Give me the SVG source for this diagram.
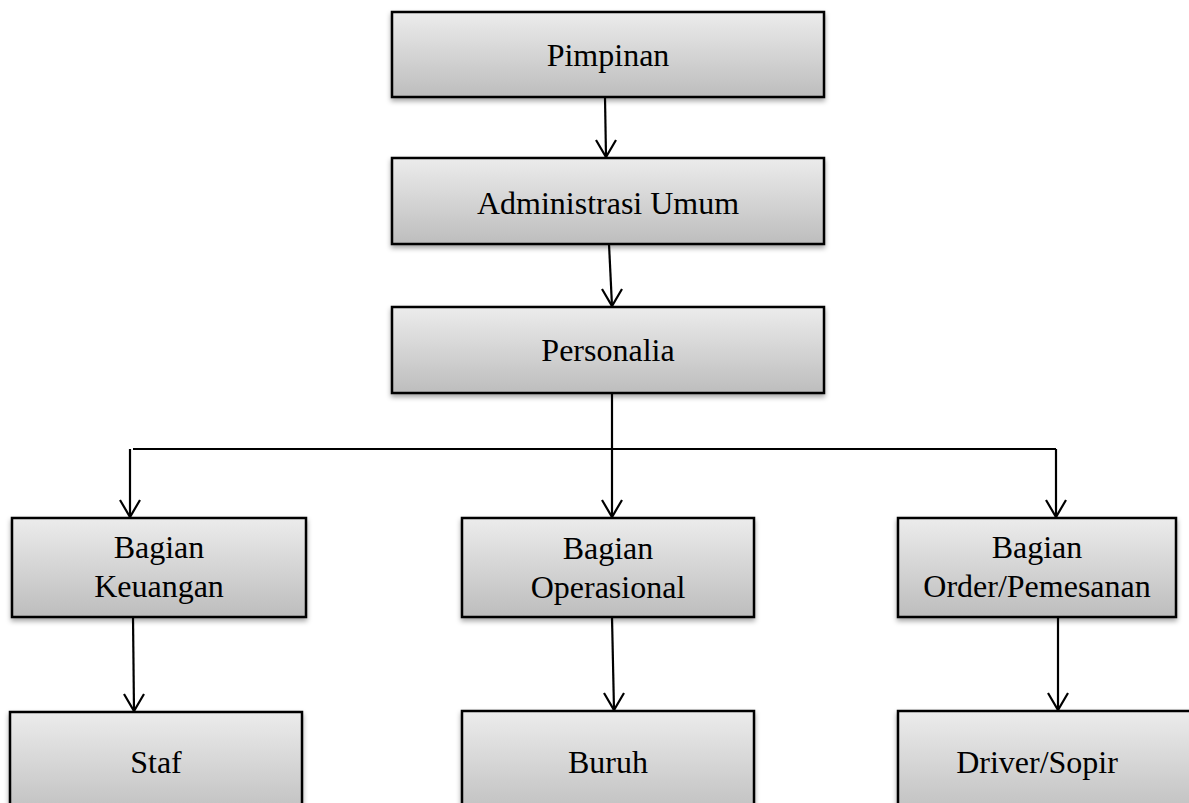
<svg xmlns="http://www.w3.org/2000/svg" width="1189" height="803" viewBox="0 0 1189 803">
<defs>
<linearGradient id="g" x1="0" y1="0" x2="0" y2="1">
<stop offset="0" stop-color="#ececec"/>
<stop offset="1" stop-color="#bdbdbd"/>
</linearGradient>
<filter id="sh" x="-5%" y="-10%" width="110%" height="130%">
<feDropShadow dx="0" dy="3" stdDeviation="2.5" flood-color="#000" flood-opacity="0.35"/>
</filter>
<style>
.box{fill:url(#g);stroke:#000;stroke-width:2.5;filter:url(#sh)}
.t{font-family:"Liberation Serif","Times New Roman",serif;font-size:32px;fill:#000;text-anchor:middle}
.c{fill:none;stroke:#000;stroke-width:2.2}
</style>
</defs>
<rect width="1189" height="803" fill="#fff"/>
<g id="connectors">
<path class="c" d="M605,97 L606,157"/>
<path class="c" d="M609,244 L612,306"/>
<path class="c" d="M612,393 L612,449"/>
<path class="c" d="M133,449 L1056,449"/>
<path class="c" d="M130,449 L130,517"/>
<path class="c" d="M612,449 L612,517"/>
<path class="c" d="M1056,449 L1056,517"/>
<path class="c" d="M133,617 L134,711"/>
<path class="c" d="M612,617 L614,710"/>
<path class="c" d="M1058,617 L1058,710"/>
<path class="c" d="M596,140 L606,157 L616,140"/>
<path class="c" d="M602,289 L612,306 L622,289"/>
<path class="c" d="M120,500 L130,517 L140,500"/>
<path class="c" d="M602,500 L612,517 L622,500"/>
<path class="c" d="M1046,500 L1056,517 L1066,500"/>
<path class="c" d="M124,694 L134,711 L144,694"/>
<path class="c" d="M604,693 L614,710 L624,693"/>
<path class="c" d="M1048,693 L1058,710 L1068,693"/>
</g>
<g id="pimpinan"><rect class="box" x="392" y="12" width="432" height="85"/><text class="t" x="608" y="66">Pimpinan</text></g>
<g id="administrasi"><rect class="box" x="392" y="158" width="432" height="86"/><text class="t" x="608" y="214">Administrasi Umum</text></g>
<g id="personalia"><rect class="box" x="392" y="307" width="432" height="86"/><text class="t" x="608" y="361">Personalia</text></g>
<g id="keuangan"><rect class="box" x="12" y="518" width="294" height="99"/><text class="t" x="159" y="558">Bagian</text><text class="t" x="159" y="597">Keuangan</text></g>
<g id="operasional"><rect class="box" x="462" y="518" width="292" height="99"/><text class="t" x="608" y="559">Bagian</text><text class="t" x="608" y="598">Operasional</text></g>
<g id="order"><rect class="box" x="898" y="518" width="278" height="99"/><text class="t" x="1037" y="558">Bagian</text><text class="t" x="1037" y="597">Order/Pemesanan</text></g>
<g id="staf"><rect class="box" x="10" y="712" width="292" height="110"/><text class="t" x="156" y="773">Staf</text></g>
<g id="buruh"><rect class="box" x="462" y="711" width="292" height="110"/><text class="t" x="608" y="773">Buruh</text></g>
<g id="driver"><rect class="box" x="898" y="711" width="300" height="110"/><text class="t" x="1037" y="773">Driver/Sopir</text></g>
</svg>
